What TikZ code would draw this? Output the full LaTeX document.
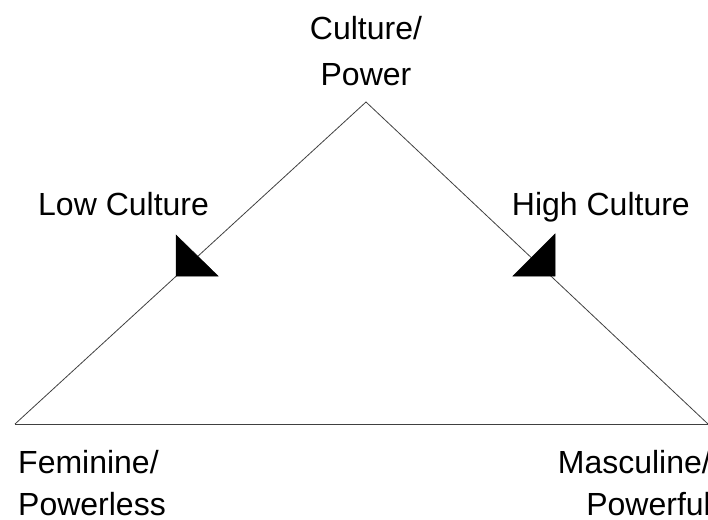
\documentclass[tikz,border=0pt]{standalone}
\usepackage{fontspec}
\setmainfont{Liberation Sans}
\begin{document}
\begin{tikzpicture}[x=1pt,y=-1pt,
  edge/.style={draw=black!75,line width=0.8pt},
  lbl/.style={inner sep=0pt,font=\fontsize{32}{46}\selectfont},
  lblb/.style={inner sep=0pt,font=\fontsize{32}{42}\selectfont},
  head/.style={fill=black,draw=black,line width=0.5pt}]
\useasboundingbox (0,0) rectangle (708,519);
\coordinate (apex) at (366,102);
\coordinate (bl) at (15,424);
\coordinate (br) at (708,424);
\draw[edge] (bl) -- (apex) -- (br);
\draw[edge] (bl) -- (br);
\coordinate (lh) at (176,276);
\coordinate (rh) at (555,276);
\fill[head] (lh) -- (176,235) -- (218,276) -- cycle;
\fill[head] (rh) -- (555,234) -- (513,276) -- cycle;
\node[lbl,anchor=north,align=center] (top) at (366,16) {Culture/\\Power};
\node[lbl,anchor=base west] (low) at (38,215) {Low Culture};
\node[lbl,anchor=base east] (high) at (690,215) {High Culture};
\node[lblb,anchor=north west,align=left] (fem) at (18,450) {Feminine/\\Powerless};
\node[lblb,anchor=north east,align=right] (mas) at (711,450) {Masculine/\\Powerful};
\end{tikzpicture}
\end{document}
